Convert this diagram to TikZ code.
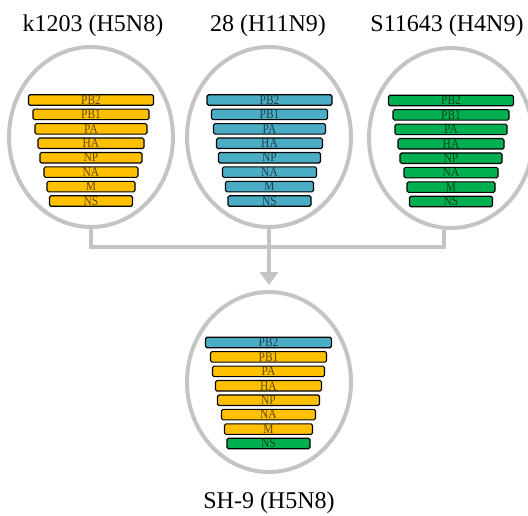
\documentclass[tikz,border=0pt]{standalone}
\usepackage{graphicx}
\usepackage{fontspec}
\setmainfont{Liberation Serif}
\usetikzlibrary{shapes.geometric,arrows.meta}
\definecolor{segY}{HTML}{FFC000}
\definecolor{segB}{HTML}{4BACC6}
\definecolor{segG}{HTML}{00B050}
\definecolor{lgray}{HTML}{C4C4C4}
\newcommand{\seglab}[1]{\scalebox{0.88}[1]{#1}}
\begin{document}
\begin{tikzpicture}[x=1pt,y=-1pt,
  cell/.style={draw=black, line width=1.1pt, rounded corners=1.5pt, minimum height=10.5pt, inner sep=0pt, text opacity=0.62, font=\fontsize{13}{13}\selectfont},
  shell/.style={draw=lgray, line width=4pt, ellipse, minimum width=164pt, minimum height=180pt, inner sep=0pt},
  title/.style={font=\fontsize{24}{24}\selectfont, anchor=base, inner sep=0pt},
  link/.style={draw=lgray, line width=4pt}]
\useasboundingbox (0,0) rectangle (528,515);
% shells
\node[shell] (e1) at (91,137) {};
\node[shell] (e2) at (269,137) {};
\node[shell] (e3) at (451,138) {};
\node[shell] (e4) at (269,382) {};
% titles
\node[title] (t1) at (93,31) {k1203 (H5N8)};
\node[title] (t2) at (268,31) {28 (H11N9)};
\node[title] (t3) at (447,31) {S11643 (H4N9)};
\node[title] (t4) at (269,508) {SH-9 (H5N8)};
% segments
\foreach \lab/\w [count=\i] in {PB2/125,PB1/116,PA/112,HA/106,NP/102,NA/94,M/88,NS/83}{
  \node[cell, fill=segY, minimum width=\w pt] (a\i) at (91,{100+14.43*(\i-1)}) {\seglab{\lab}};
  \node[cell, fill=segB, minimum width=\w pt] (b\i) at (269.5,{100+14.43*(\i-1)}) {\seglab{\lab}};
  \node[cell, fill=segG, minimum width=\w pt] (c\i) at (451,{100.5+14.43*(\i-1)}) {\seglab{\lab}};
}
\foreach \lab/\w/\col [count=\i] in {PB2/126/segB,PB1/116/segY,PA/112/segY,HA/106/segY,NP/102/segY,NA/94/segY,M/88/segY,NS/83/segG}{
  \node[cell, fill=\col, minimum width=\w pt] (d\i) at (268.5,{342.5+14.43*(\i-1)}) {\seglab{\lab}};
}
% connectors
\coordinate (j1) at (91,247);
\coordinate (j3) at (444,247);
\draw[link] (e1.south) -- (j1) -- (j3) -- (e3.south -| j3);
\draw[link, -{Triangle[width=18pt,length=13pt]}, shorten >=5pt] (e2.south) -- (e4.north);
\end{tikzpicture}
\end{document}
